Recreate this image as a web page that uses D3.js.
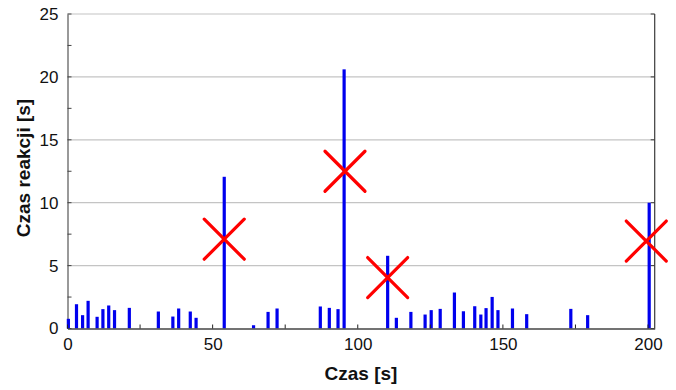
<!DOCTYPE html>
<html>
<head>
<meta charset="utf-8">
<script src="https://cdn.jsdelivr.net/npm/d3@7"></script>
<style>
  html, body { margin: 0; padding: 0; background: #fff; }
  svg { display: block; }
  text { font-family: "Liberation Sans", Arial, sans-serif; }
</style>
</head>
<body>
<svg id="chart" width="676" height="390"></svg>
<script>
// Data
const times = [0.3, 3.1, 5.2, 7.1, 10.2, 12.2, 14.2, 16.2, 21.3, 31.3, 36.3, 38.3, 42.3, 44.3, 54.0,
  64.1, 69.1, 72.2, 87.1, 90.2, 93.2, 95.3, 110.3, 113.3, 118.3, 123.2, 125.3, 128.4, 133.3, 136.4,
  140.3, 142.4, 144.2, 146.3, 148.3, 153.3, 158.2, 173.4, 179.2, 200.4];
const reactionTimes = [0.77, 1.93, 1.06, 2.2, 0.93, 1.54, 1.83, 1.46, 1.64, 1.35, 0.95, 1.59, 1.35, 0.85, 12.06,
  0.26, 1.32, 1.59, 1.75, 1.64, 1.54, 20.6, 5.78, 0.85, 1.32, 1.11, 1.46, 1.56, 2.86, 1.37,
  1.77, 1.11, 1.62, 2.51, 1.46, 1.59, 1.14, 1.56, 1.06, 10.0];
const markerX = [54.0, 95.6, 110.3, 199.4];
const markerY = [7.1, 12.5, 4.05, 6.95];
const xTicks = [0, 50, 100, 150, 200];
const xMinorTicks = [25, 75, 125, 175];
const yTicks = [0, 5, 10, 15, 20, 25];
const yMinorTicks = [2.5, 7.5, 12.5, 17.5, 22.5];
const xTitle = "Czas [s]";
const yTitle = "Czas reakcji [s]";

const svg = d3.select("#chart");
const pLeft = 67.5, pRight = 654.7, pTop = 14, pBottom = 328.5;

const x = d3.scaleLinear().domain([0, 202.3]).range([pLeft, pRight]);
const y = d3.scaleLinear().domain([0, 25]).range([pBottom, pTop]);

// Gridlines
svg.append("g").selectAll("line").data(yTicks.filter(d => d > 0)).join("line")
  .attr("x1", pLeft).attr("x2", pRight)
  .attr("y1", d => y(d)).attr("y2", d => y(d))
  .attr("stroke", "#c4c4c4").attr("stroke-width", 1.2);

// Right border with inward ticks
svg.append("line").attr("x1", pRight).attr("x2", pRight).attr("y1", pTop).attr("y2", pBottom)
  .attr("stroke", "#3a3a3a").attr("stroke-width", 1.2);
svg.append("g").selectAll("line").data(yTicks).join("line")
  .attr("x1", pRight - 4).attr("x2", pRight)
  .attr("y1", d => y(d)).attr("y2", d => y(d))
  .attr("stroke", "#3a3a3a").attr("stroke-width", 1);

// Y axis
const yAxis = d3.axisLeft(y).tickValues(yTicks).tickSize(0).tickPadding(9).tickFormat(d3.format("d"));
const gy = svg.append("g").attr("transform", `translate(${pLeft},0)`).call(yAxis);
gy.select(".domain").attr("stroke", "#555").attr("stroke-width", 1.2);
gy.selectAll("text").attr("font-size", 17).attr("fill", "#111");
svg.append("g").selectAll("line").data(yMinorTicks.concat(yTicks)).join("line")
  .attr("x1", pLeft).attr("x2", pLeft + 4)
  .attr("y1", d => y(d)).attr("y2", d => y(d))
  .attr("stroke", "#444").attr("stroke-width", 1);

// Bars
svg.append("g").selectAll("rect").data(times).join("rect")
  .attr("x", (d) => x(d) - 1.6)
  .attr("width", 3.2)
  .attr("y", (d, i) => y(reactionTimes[i]))
  .attr("height", (d, i) => y(0) - y(reactionTimes[i]))
  .attr("fill", "#0000ee");

// X axis
const xAxis = d3.axisBottom(x).tickValues(xTicks).tickSize(0).tickPadding(9).tickFormat(d3.format("d"));
const gx = svg.append("g").attr("transform", `translate(0,${pBottom})`).call(xAxis);
gx.select(".domain").attr("stroke", "#444").attr("stroke-width", 1.5);
gx.selectAll("text").attr("font-size", 17).attr("fill", "#111");
svg.append("g").selectAll("line").data(xTicks.concat(xMinorTicks)).join("line")
  .attr("x1", d => x(d)).attr("x2", d => x(d))
  .attr("y1", pBottom - 4).attr("y2", pBottom)
  .attr("stroke", "#222").attr("stroke-width", 1);

// Red X markers
const mk = svg.append("g");
markerX.forEach((mx, i) => {
  const cx = x(mx), cy = y(markerY[i]), s = 20;
  mk.append("path")
    .attr("d", `M${cx - s},${cy - s}L${cx + s},${cy + s}M${cx - s},${cy + s}L${cx + s},${cy - s}`)
    .attr("stroke", "#ff0000").attr("stroke-width", 3.2).attr("fill", "none")
    .attr("stroke-linecap", "round");
});

// Titles
svg.append("text").attr("x", 361).attr("y", 380).attr("text-anchor", "middle")
  .attr("font-size", 19).attr("font-weight", "bold").attr("fill", "#111").text(xTitle);
svg.append("text").attr("transform", "translate(30,168) rotate(-90)").attr("text-anchor", "middle")
  .attr("font-size", 19).attr("font-weight", "bold").attr("fill", "#111").text(yTitle);
</script>
</body>
</html>
